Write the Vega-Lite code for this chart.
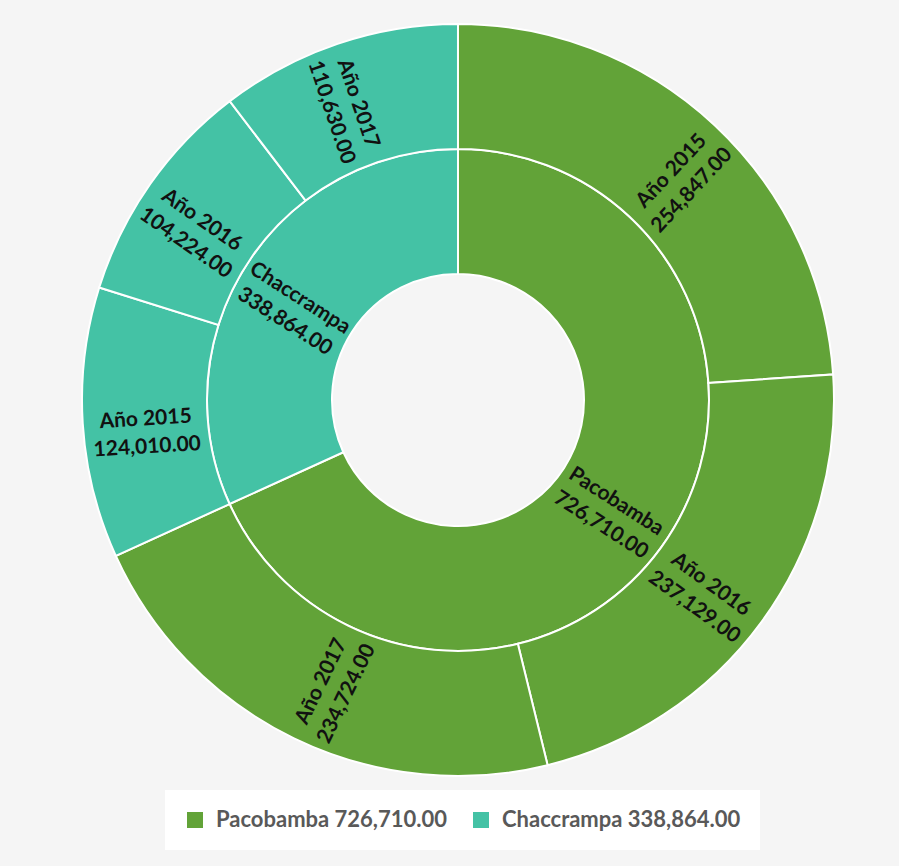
{
  "$schema": "https://vega.github.io/schema/vega-lite/v6.json",
  "width": 880,
  "height": 800,
  "autosize": {"type": "none"},
  "padding": {"left": 18, "top": 0, "right": 1, "bottom": 66},
  "background": "#f5f5f5",
  "config": {"view": {"stroke": null}, "font": "Lato"},
  "datasets": {
    "inner": [
      {"id": "P", "name": "Pacobamba", "value": 726710, "ord": 1},
      {"id": "C", "name": "Chaccrampa", "value": 338864, "ord": 2}
    ],
    "outer": [
      {"id": "P2015", "group": "Pacobamba", "label": "Año 2015", "value": 254847, "ord": 1},
      {"id": "P2016", "group": "Pacobamba", "label": "Año 2016", "value": 237129, "ord": 2},
      {"id": "P2017", "group": "Pacobamba", "label": "Año 2017", "value": 234724, "ord": 3},
      {"id": "C2015", "group": "Chaccrampa", "label": "Año 2015", "value": 124010, "ord": 4},
      {"id": "C2016", "group": "Chaccrampa", "label": "Año 2016", "value": 104224, "ord": 5},
      {"id": "C2017", "group": "Chaccrampa", "label": "Año 2017", "value": 110630, "ord": 6}
    ]
  },
  "layer": [
    {
      "data": {"name": "inner"},
      "transform": [
        {"calculate": "datum.name + ' ' + format(datum.value, ',.2f')", "as": "legendName"}
      ],
      "mark": {"type": "arc", "radius": 251, "radius2": 126, "stroke": "#ffffff", "strokeWidth": 2},
      "encoding": {
        "theta": {"field": "value", "type": "quantitative", "stack": true},
        "order": {"field": "ord", "type": "quantitative"},
        "color": {
          "field": "legendName",
          "type": "nominal",
          "sort": {"field": "ord", "op": "min"},
          "scale": {"range": ["#62a338", "#44c2a5"]},
          "legend": {
            "orient": "none",
            "legendX": 147,
            "legendY": 790,
            "direction": "horizontal",
            "title": null,
            "fillColor": "#ffffff",
            "padding": 19,
            "symbolType": "square",
            "symbolSize": 256,
            "symbolStrokeWidth": 0,
            "symbolOpacity": 1,
            "labelFont": "Lato",
            "labelFontSize": 22,
            "labelFontWeight": "bold",
            "labelColor": "#595959",
            "labelOffset": 10,
            "columnPadding": 22,
            "labelLimit": 400
          }
        }
      }
    },
    {
      "data": {"name": "outer"},
      "mark": {"type": "arc", "radius": 376, "radius2": 251, "stroke": "#ffffff", "strokeWidth": 2},
      "encoding": {
        "theta": {"field": "value", "type": "quantitative", "stack": true},
        "order": {"field": "ord", "type": "quantitative"},
        "color": {
          "field": "group",
          "type": "nominal",
          "scale": {"domain": ["Pacobamba", "Chaccrampa"], "range": ["#62a338", "#44c2a5"]},
          "legend": null
        }
      }
    },
    {
      "data": {"name": "inner"},
      "transform": [
        {"joinaggregate": [{"op": "sum", "field": "value", "as": "total"}]},
        {"window": [{"op": "sum", "field": "value", "as": "cum"}], "sort": [{"field": "ord", "order": "ascending"}], "frame": [null, 0]},
        {"calculate": "(datum.cum - datum.value / 2) / datum.total * 360", "as": "mid"},
        {"calculate": "datum.mid < 180 ? datum.mid - 90 : datum.mid - 270", "as": "rot"},
        {"calculate": "datum.name + '\\n' + format(datum.value, ',.2f')", "as": "txt"}
      ],
      "mark": {"type": "text", "radius": 188, "font": "Lato", "fontSize": 21, "fontWeight": "bold", "color": "#111111", "lineBreak": "\n", "lineHeight": 28, "align": "center", "baseline": "middle"},
      "encoding": {
        "theta": {"field": "value", "type": "quantitative", "stack": true},
        "order": {"field": "ord", "type": "quantitative"},
        "detail": {"field": "id", "type": "nominal"},
        "text": {"field": "txt", "type": "nominal"},
        "angle": {"field": "rot", "type": "quantitative", "scale": null}
      }
    },
    {
      "data": {"name": "outer"},
      "transform": [
        {"joinaggregate": [{"op": "sum", "field": "value", "as": "total"}]},
        {"window": [{"op": "sum", "field": "value", "as": "cum"}], "sort": [{"field": "ord", "order": "ascending"}], "frame": [null, 0]},
        {"calculate": "(datum.cum - datum.value / 2) / datum.total * 360", "as": "mid"},
        {"calculate": "datum.mid < 180 ? datum.mid - 90 : datum.mid - 270", "as": "rot"},
        {"calculate": "datum.label + '\\n' + format(datum.value, ',.2f')", "as": "txt"}
      ],
      "mark": {"type": "text", "radius": 313, "font": "Lato", "fontSize": 21, "fontWeight": "bold", "color": "#111111", "lineBreak": "\n", "lineHeight": 28, "align": "center", "baseline": "middle"},
      "encoding": {
        "theta": {"field": "value", "type": "quantitative", "stack": true},
        "order": {"field": "ord", "type": "quantitative"},
        "detail": {"field": "id", "type": "nominal"},
        "text": {"field": "txt", "type": "nominal"},
        "angle": {"field": "rot", "type": "quantitative", "scale": null}
      }
    }
  ],
  "resolve": {"scale": {"color": "independent"}}
}
